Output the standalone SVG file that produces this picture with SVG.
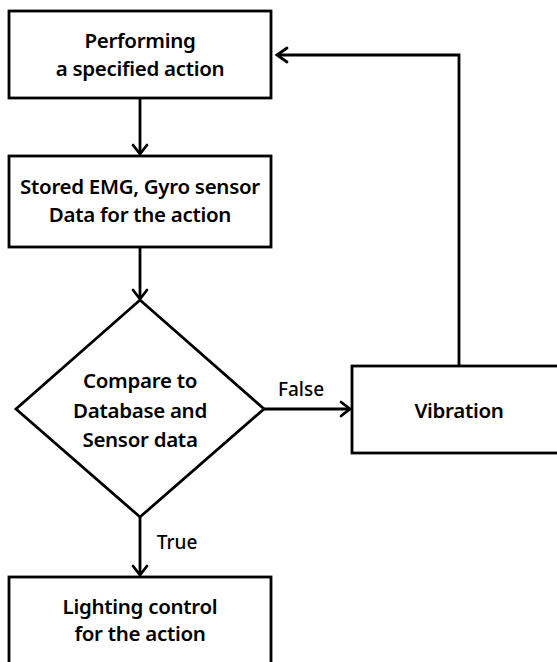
<svg xmlns="http://www.w3.org/2000/svg" width="557" height="662" viewBox="0 0 557 662">
<style>
.box{fill:#fff;stroke:#000;stroke-width:2.8}
.ln{fill:none;stroke:#000;stroke-width:2.8}
.ah{fill:none;stroke:#000;stroke-width:2.8;stroke-linecap:round;stroke-linejoin:miter}
text{font-family:"Noto Sans","Open Sans",sans-serif;font-weight:600;font-size:20.5px;letter-spacing:-0.3px;fill:#000;text-anchor:middle}
.lbl{font-weight:500;font-size:19px;letter-spacing:0}
</style>
<rect width="557" height="662" fill="#fff"/>
<g id="connectors">
<line class="ln" x1="140" y1="98" x2="140" y2="154"/>
<polyline class="ah" points="133,145 140,154 147,145"/>
<line class="ln" x1="140" y1="247" x2="140" y2="299"/>
<polyline class="ah" points="133,290 140,299 147,290"/>
<line class="ln" x1="264" y1="409" x2="350" y2="409"/>
<polyline class="ah" points="341,402 350,409 341,416"/>
<text class="lbl" x="301" y="396">False</text>
<line class="ln" x1="140" y1="517" x2="140" y2="575"/>
<polyline class="ah" points="133,566 140,575 147,566"/>
<text class="lbl" x="177" y="549">True</text>
<polyline class="ln" points="459,366 459,55 277,55"/>
<polyline class="ah" points="287,48 277,55 287,62"/>
</g>
<g id="n1"><rect class="box" x="9" y="11" width="262" height="87"/>
<text x="140" y="48">Performing</text><text x="140" y="76">a specified action</text></g>
<g id="n2"><rect class="box" x="9" y="156" width="262" height="91"/>
<text x="140" y="194">Stored EMG, Gyro sensor</text><text x="140" y="222">Data for the action</text></g>
<g id="n3"><polygon class="box" points="140,300 264,409 140,517 16,409"/>
<text x="140" y="388">Compare to</text><text x="140" y="418">Database and</text><text x="140" y="447">Sensor data</text></g>
<g id="n4"><rect class="box" x="352" y="366" width="215" height="87"/>
<text x="459" y="418">Vibration</text></g>
<g id="n5"><rect class="box" x="9" y="577" width="262" height="100"/>
<text x="140" y="614">Lighting control</text><text x="140" y="641">for the action</text></g>
</svg>
